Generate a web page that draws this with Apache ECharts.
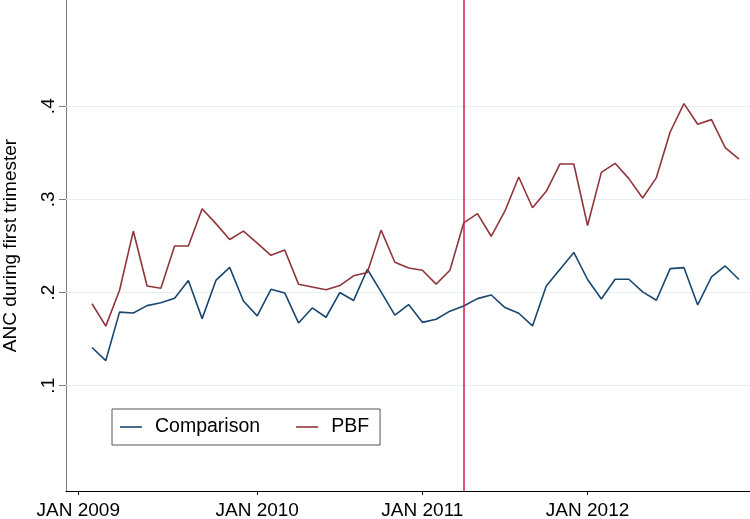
<!DOCTYPE html>
<html>
<head>
<meta charset="utf-8">
<script src="https://cdn.jsdelivr.net/npm/echarts@6/dist/echarts.min.js"></script>
<style>html,body{margin:0;padding:0;background:#fff}#c{width:750px;height:519px}</style>
</head>
<body>
<div id="c"></div>
<script>
// Month index: 0 = Jan 2009 ... 47 = Dec 2012
const months = [0,1,2,3,4,5,6,7,8,9,10,11,12,13,14,15,16,17,18,19,20,21,22,23,
                24,25,26,27,28,29,30,31,32,33,34,35,36,37,38,39,40,41,42,43,44,45,46,47];
const comparison = [0.141,0.127,0.179,0.178,0.186,0.189,0.194,0.213,0.172,0.213,0.227,0.191,
                    0.175,0.2035,0.1996,0.1674,0.1835,0.1735,0.200,0.1914,0.225,0.2007,0.1757,0.1871,
                    0.168,0.1713,0.180,0.1856,0.1935,0.1974,0.1839,0.1778,0.1642,0.207,0.225,0.243,
                    0.214,0.193,0.2143,0.2143,0.2007,0.1917,0.2257,0.2268,0.1867,0.2167,0.2285,0.214];
const pbf = [0.188,0.164,0.2025,0.266,0.207,0.2046,0.250,0.250,0.290,0.274,0.257,0.266,
             0.253,0.240,0.2457,0.209,0.206,0.203,0.2075,0.218,0.2215,0.267,0.2325,0.2264,
             0.224,0.209,0.224,0.2747,0.2848,0.2604,0.2876,0.324,0.291,0.3087,0.338,0.338,
             0.272,0.329,0.3387,0.3223,0.3015,0.3234,0.3723,0.4028,0.3806,0.3856,0.3556,0.3433];
const xTickPositions = [-1, 12, 24, 36];
const xTickLabels = ['JAN 2009', 'JAN 2010', 'JAN 2011', 'JAN 2012'];
const yTickValues = [0.1, 0.2, 0.3, 0.4];
const yTickLabels = ['.1', '.2', '.3', '.4'];
const policyMonth = 27;
const seriesNames = ['Comparison', 'PBF'];

const FONT = 'Liberation Sans';
const chart = echarts.init(document.getElementById('c'), null, {renderer: 'canvas'});
const pair = (xs, ys) => xs.map((x, i) => [x, ys[i]]);

chart.setOption({
  animation: false,
  backgroundColor: '#fff',
  textStyle: {fontFamily: FONT},
  grid: {left: 66, right: 0, top: 0, bottom: 28, containLabel: false, outerBoundsMode: 'none'},
  legend: {
    left: 112, top: 409,
    orient: 'horizontal',
    padding: [8, 11, 8, 8],
    borderColor: '#555', borderWidth: 1, backgroundColor: '#fff',
    icon: 'rect',
    itemWidth: 22, itemHeight: 1.6, itemGap: 36,
    textStyle: {fontSize: 19.5, fontFamily: FONT, color: '#000', padding: [0, 0, 0, 8]},
    data: seriesNames
  },
  xAxis: {
    type: 'value', min: -1.89, max: 47.8,
    axisLine: {show: true, onZero: false, lineStyle: {color: '#000', width: 1}},
    axisTick: {show: true, length: 4, customValues: xTickPositions, lineStyle: {color: '#000'}},
    axisLabel: {
      customValues: xTickPositions, margin: 10,
      fontSize: 19, fontFamily: FONT, color: '#000',
      formatter: v => xTickLabels[xTickPositions.indexOf(v)] || ''
    },
    splitLine: {show: false}
  },
  yAxis: {
    type: 'value', min: -0.013, max: 0.514,
    name: 'ANC during first trimester',
    nameLocation: 'middle', nameRotate: 90, nameGap: 46,
    nameTextStyle: {fontSize: 19, fontFamily: FONT, color: '#000'},
    axisLine: {show: true, onZero: false, lineStyle: {color: '#808080', width: 1}},
    axisTick: {show: true, length: 7, customValues: yTickValues, lineStyle: {color: '#808080'}},
    axisLabel: {
      customValues: yTickValues, rotate: 90, margin: 8,
      fontSize: 19, fontFamily: FONT, color: '#000',
      formatter: v => {
        const i = yTickValues.findIndex(t => Math.abs(t - v) < 1e-9);
        return i >= 0 ? yTickLabels[i] : '';
      }
    },
    splitLine: {show: false}
  },
  series: [
    {
      name: seriesNames[0], type: 'line', symbol: 'none', z: 3,
      data: pair(months, comparison),
      lineStyle: {color: '#1a476f', width: 1.6},
      itemStyle: {color: '#1a476f'},
      markLine: {
        silent: true, symbol: 'none', z: 1,
        label: {show: false},
        lineStyle: {color: '#e6eff1', width: 1, type: 'solid'},
        data: yTickValues.map(v => ({yAxis: v}))
      }
    },
    {
      name: seriesNames[1], type: 'line', symbol: 'none', z: 3,
      data: pair(months, pbf),
      lineStyle: {color: '#90353b', width: 1.6},
      itemStyle: {color: '#90353b'},
      markLine: {
        silent: true, symbol: 'none', z: 4,
        label: {show: false},
        lineStyle: {color: '#d01f4a', width: 1.5, type: 'solid'},
        data: [{xAxis: policyMonth}]
      }
    }
  ]
});
</script>
</body>
</html>
